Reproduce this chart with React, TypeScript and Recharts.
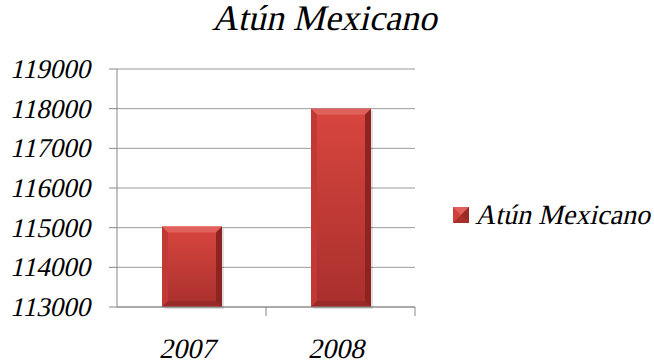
import { BarChart, Bar, XAxis, YAxis, CartesianGrid } from 'recharts';

const YEARS = ['2007', '2008'];
const ATUN = [115030, 118000];
const Y_TICKS = [113000, 114000, 115000, 116000, 117000, 118000, 119000];
const SERIES_NAME = 'Atún Mexicano';

// no serif italic face available -> regular serif, slanted by hand
const FONT = 'Liberation Serif, Tinos, DejaVu Serif, Times New Roman, Times, serif';
const SLANT = -13;
const AXIS = '#888';

const data = YEARS.map((year, i) => ({ year, value: ATUN[i] }));

// bevelled excel-style bar
const BevelBar = (props: any) => {
  const { x, y, width: w, height: h } = props;
  if (!w || !h) return null;
  const b = Math.min(6, w / 4, h / 4);
  return (
    <g>
      <rect x={x + 2} y={y + 2} width={w} height={h} fill="#000" opacity={0.12} />
      <rect x={x} y={y} width={w} height={h} fill="url(#barBody)" />
      <polygon points={`${x},${y} ${x + w},${y} ${x + w - b},${y + b} ${x + b},${y + b}`} fill="#e0605b" />
      <polygon points={`${x},${y} ${x + b},${y + b} ${x + b},${y + h - b} ${x},${y + h}`} fill="#c23834" />
      <polygon points={`${x + w},${y} ${x + w - b},${y + b} ${x + w - b},${y + h - b} ${x + w},${y + h}`} fill="#8e2421" />
      <polygon points={`${x},${y + h} ${x + b},${y + h - b} ${x + w - b},${y + h - b} ${x + w},${y + h}`} fill="#9a2a27" />
    </g>
  );
};

const YTick = (props: any) => {
  const { x, y, payload } = props;
  return (
    <text
      transform={`translate(${x},${y}) skewX(${SLANT})`}
      textAnchor="end"
      dy="0.33em"
      fill="#000"
      fontFamily={FONT}
      fontSize={27}
    >
      {payload.value}
    </text>
  );
};

// label at the category centre, small tick mark on the category's right edge
const XTick = (props: any) => {
  const { x, y, payload } = props;
  const off = payload?.offset ?? 0;
  return (
    <g>
      {off > 0 && <line x1={x + off} x2={x + off} y1={y} y2={y + 9} stroke={AXIS} />}
      <text
        transform={`translate(${x},${y + 31}) skewX(${SLANT})`}
        textAnchor="middle"
        dy="0.71em"
        fill="#000"
        fontFamily={FONT}
        fontSize={28}
      >
        {payload.value}
      </text>
    </g>
  );
};

export default function App() {
  return (
    <div style={{ position: 'absolute', left: 0, top: 0, width: 654, height: 362, background: '#fff' }}>
      <div
        style={{
          position: 'absolute',
          left: 0,
          top: -2,
          width: 654,
          textAlign: 'center',
          fontFamily: FONT,
          fontSize: 36,
          lineHeight: '40px',
          color: '#000',
          transform: `skewX(${SLANT}deg)`,
        }}
      >
        {SERIES_NAME}
      </div>
      <BarChart
        width={654}
        height={362}
        data={data}
        margin={{ top: 69, right: 239, bottom: 0, left: 0 }}
        barSize={60}
      >
        <defs>
          <linearGradient id="barBody" x1="0" y1="0" x2="0" y2="1">
            <stop offset="0%" stopColor="#d8463f" />
            <stop offset="100%" stopColor="#a92f2c" />
          </linearGradient>
        </defs>
        <CartesianGrid vertical={false} stroke="#999" />
        <XAxis
          dataKey="year"
          height={55}
          stroke={AXIS}
          interval={0}
          tickLine={false}
          tickSize={0}
          tickMargin={0}
          tick={<XTick />}
        />
        <YAxis
          width={117}
          domain={[113000, 119000]}
          ticks={Y_TICKS}
          stroke={AXIS}
          tickSize={8}
          tickMargin={17}
          interval={0}
          tick={<YTick />}
        />
        <Bar dataKey="value" name={SERIES_NAME} shape={BevelBar} isAnimationActive={false} />
      </BarChart>
      {/* legend */}
      <div style={{ position: 'absolute', left: 453, top: 200, display: 'flex', alignItems: 'center', gap: 8 }}>
        <svg width={16} height={16}>
          <rect x={0} y={0} width={16} height={16} fill="#cf3f3b" />
          <polygon points="0,0 16,0 8,8" fill="#e0605b" />
          <polygon points="16,0 16,16 8,8" fill="#9a2a27" />
          <polygon points="0,16 16,16 8,8" fill="#a92f2c" />
        </svg>
        <span
          style={{
            display: 'inline-block',
            fontFamily: FONT,
            fontSize: 28,
            color: '#000',
            lineHeight: '30px',
            transform: `skewX(${SLANT}deg)`,
          }}
        >
          {SERIES_NAME}
        </span>
      </div>
    </div>
  );
}
